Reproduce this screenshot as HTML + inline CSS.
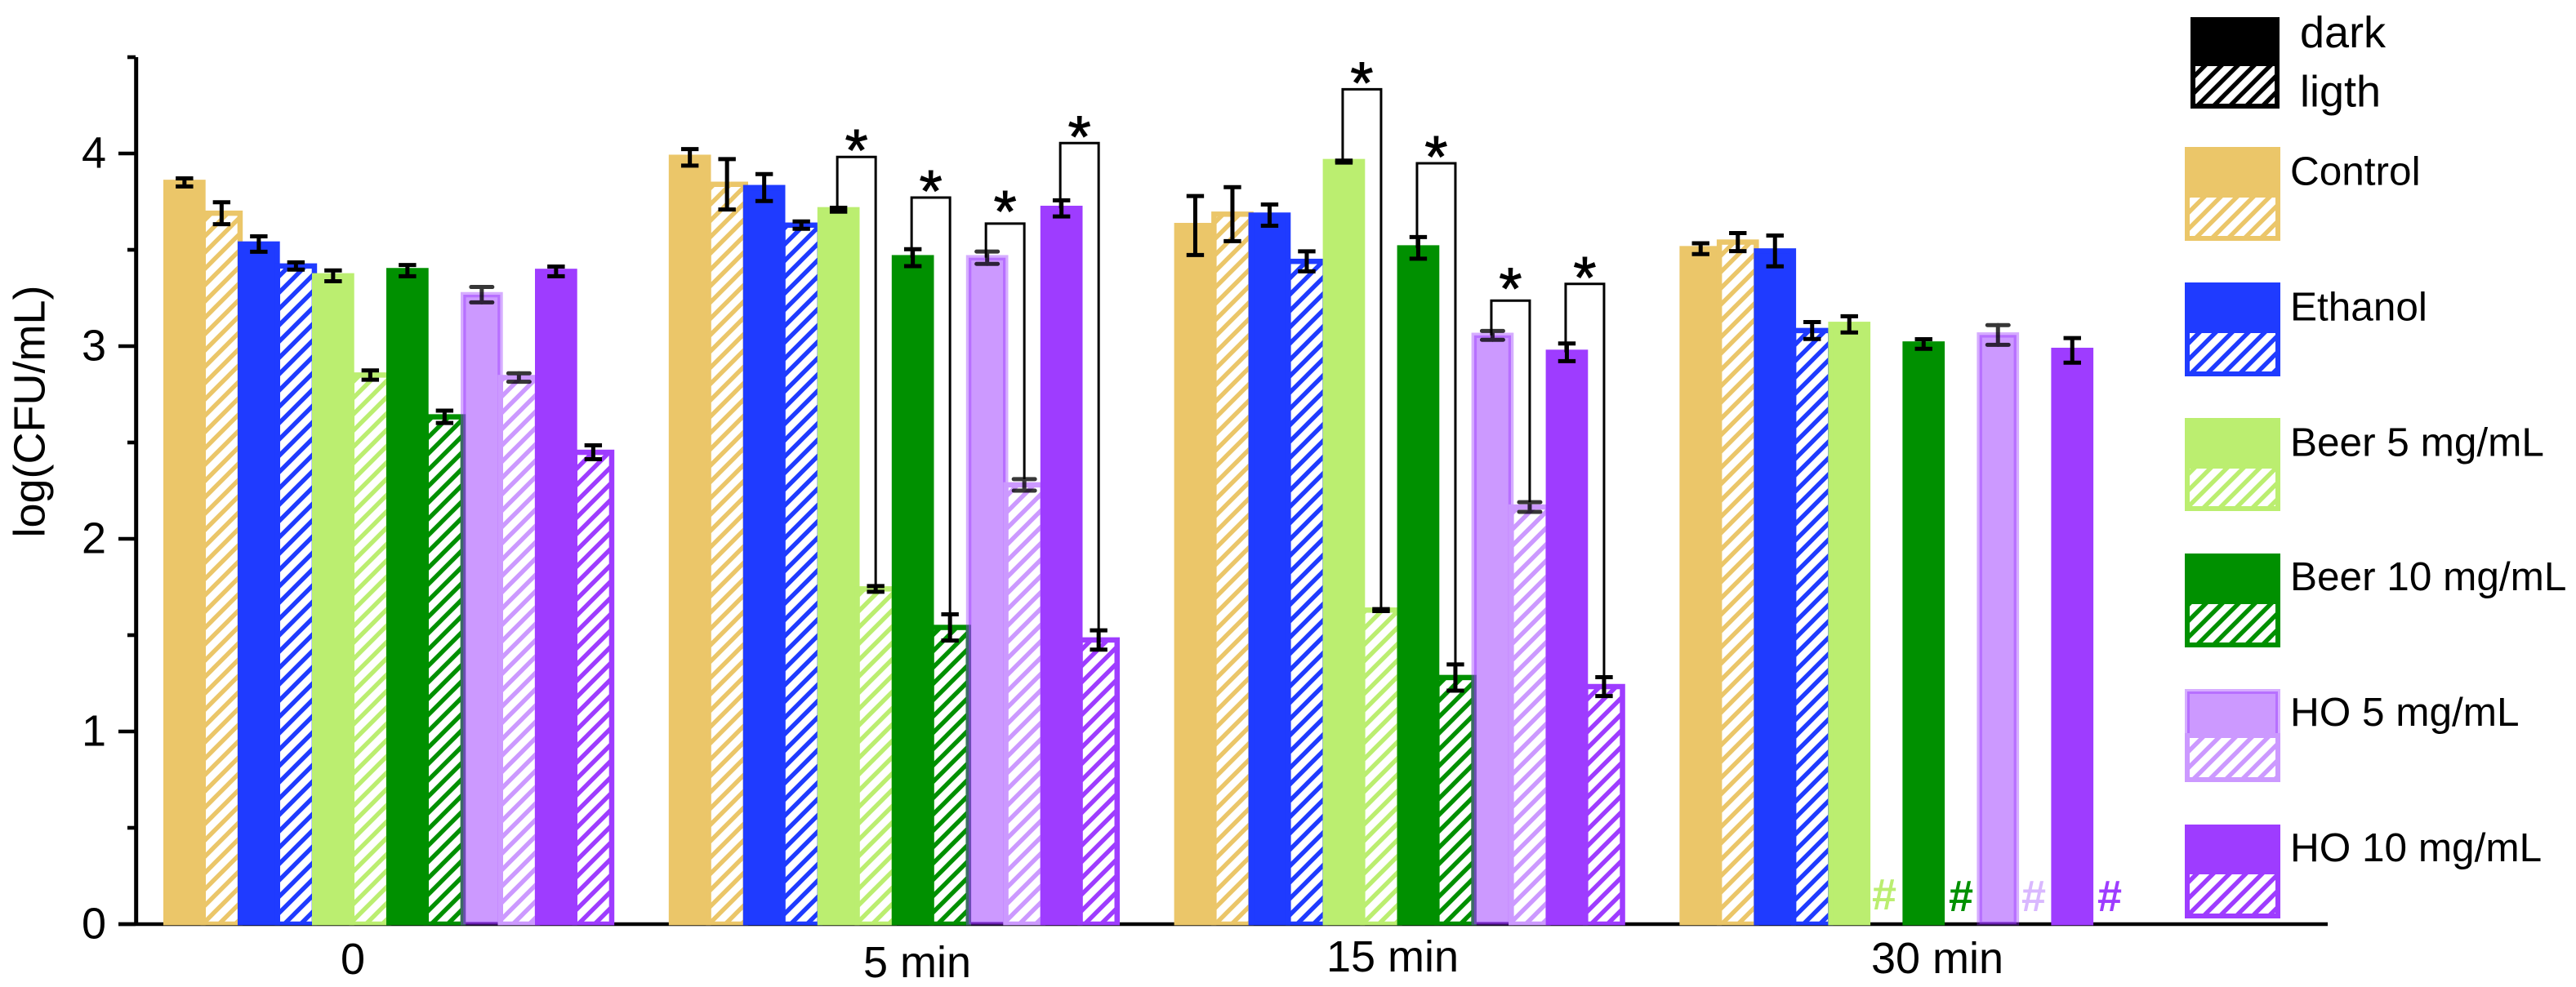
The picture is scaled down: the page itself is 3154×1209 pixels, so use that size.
<!DOCTYPE html>
<html lang="en">
<head>
<meta charset="utf-8">
<title>log(CFU/mL) bar chart</title>
<style>
html,body{margin:0;padding:0;background:#fff;width:3154px;height:1209px;overflow:hidden}
svg{display:block}
text{font-family:"Liberation Sans",sans-serif;fill:#000}
</style>
</head>
<body>
<svg id="chart" width="3154" height="1209" viewBox="0 0 3154 1209" xmlns="http://www.w3.org/2000/svg">
<defs>
<clipPath id="bar-clip"><rect x="0" y="0" width="3154" height="1133.4"/></clipPath>
<pattern id="hatch-control" width="20" height="20" patternUnits="userSpaceOnUse"><rect width="20" height="20" fill="#fff"/><path d="M-5,5 l10,-10 M0,20 l20,-20 M15,25 l10,-10" stroke="#EBC669" stroke-width="5.4"/></pattern>
<pattern id="hatch-ethanol" width="20" height="20" patternUnits="userSpaceOnUse"><rect width="20" height="20" fill="#fff"/><path d="M-5,5 l10,-10 M0,20 l20,-20 M15,25 l10,-10" stroke="#1F3BFF" stroke-width="5.4"/></pattern>
<pattern id="hatch-beer5" width="20" height="20" patternUnits="userSpaceOnUse"><rect width="20" height="20" fill="#fff"/><path d="M-5,5 l10,-10 M0,20 l20,-20 M15,25 l10,-10" stroke="#BBEE70" stroke-width="5.4"/></pattern>
<pattern id="hatch-beer10" width="20" height="20" patternUnits="userSpaceOnUse"><rect width="20" height="20" fill="#fff"/><path d="M-5,5 l10,-10 M0,20 l20,-20 M15,25 l10,-10" stroke="#009000" stroke-width="5.4"/></pattern>
<pattern id="hatch-ho5" width="20" height="20" patternUnits="userSpaceOnUse"><rect width="20" height="20" fill="#fff"/><path d="M-5,5 l10,-10 M0,20 l20,-20 M15,25 l10,-10" stroke="#CC99FF" stroke-width="5.4"/></pattern>
<pattern id="hatch-ho10" width="20" height="20" patternUnits="userSpaceOnUse"><rect width="20" height="20" fill="#fff"/><path d="M-5,5 l10,-10 M0,20 l20,-20 M15,25 l10,-10" stroke="#9E3CFF" stroke-width="5.4"/></pattern>
<pattern id="hatch-black" width="20" height="20" patternUnits="userSpaceOnUse"><rect width="20" height="20" fill="#fff"/><path d="M-5,5 l10,-10 M0,20 l20,-20 M15,25 l10,-10" stroke="#000" stroke-width="5.4"/></pattern>
</defs>

<g id="axes">
<line x1="145" y1="1132" x2="2850" y2="1132" stroke="#000" stroke-width="4.6"/>
<line x1="166.7" y1="70" x2="166.7" y2="1134" stroke="#000" stroke-width="5"/>
</g>
<text font-size="54" text-anchor="middle" transform="translate(54.6,504) rotate(-90)">log(CFU/mL)</text>
<g id="bars" clip-path="url(#bar-clip)"></g>
<g id="errors"></g>
<g id="brackets"></g>

<text x="432" y="1193" font-size="54" text-anchor="middle">0</text>
<text x="1123" y="1197" font-size="54" text-anchor="middle">5 min</text>
<text x="1705" y="1190" font-size="54" text-anchor="middle">15 min</text>
<text x="2372" y="1192" font-size="54" text-anchor="middle">30 min</text>

<text x="2307" y="1114" font-size="54" font-weight="bold" text-anchor="middle" style="fill:#BBEE70">#</text>
<text x="2401" y="1116" font-size="54" font-weight="bold" text-anchor="middle" style="fill:#009000">#</text>
<text x="2490" y="1116" font-size="54" font-weight="bold" text-anchor="middle" style="fill:#D9B8FF">#</text>
<text x="2583" y="1116" font-size="54" font-weight="bold" text-anchor="middle" style="fill:#9E3CFF">#</text>

<g>
<g>
<rect x="2682" y="21" width="109" height="60" fill="#000"/>
<rect x="2685" y="78" width="103" height="52" fill="url(#hatch-black)" stroke="#000" stroke-width="6"/>
<text x="2816" y="58" font-size="54">dark</text>
<text x="2816" y="130.7" font-size="54">ligth</text>
</g>
<g>
<rect x="2675" y="180" width="117" height="62" fill="#EBC669"/>
<rect x="2678" y="239" width="111" height="53" fill="url(#hatch-control)" stroke="#EBC669" stroke-width="6"/>
<text x="2804" y="226.7" font-size="49.5">Control</text>
</g>
<g>
<rect x="2675" y="346" width="117" height="62" fill="#1F3BFF"/>
<rect x="2678" y="405" width="111" height="53" fill="url(#hatch-ethanol)" stroke="#1F3BFF" stroke-width="6"/>
<text x="2804" y="392.7" font-size="49.5">Ethanol</text>
</g>
<g>
<rect x="2675" y="512" width="117" height="62" fill="#BBEE70"/>
<rect x="2678" y="571" width="111" height="52" fill="url(#hatch-beer5)" stroke="#BBEE70" stroke-width="6"/>
<text x="2804" y="558.6" font-size="49.5">Beer 5 mg/mL</text>
</g>
<g>
<rect x="2675" y="678" width="117" height="62" fill="#009000"/>
<rect x="2678" y="737" width="111" height="53" fill="url(#hatch-beer10)" stroke="#009000" stroke-width="6"/>
<text x="2804" y="723" font-size="49.5">Beer 10 mg/mL</text>
</g>
<g>
<rect x="2678" y="847" width="111" height="54" fill="rgba(153,51,255,.5)" stroke="rgba(153,51,255,.4)" stroke-width="6"/>
<rect x="2678" y="901" width="111" height="54" fill="url(#hatch-ho5)" stroke="#CC99FF" stroke-width="6"/>
<text x="2804" y="889" font-size="49.5">HO 5 mg/mL</text>
</g>
<g>
<rect x="2675" y="1010" width="117" height="61" fill="#9E3CFF"/>
<rect x="2678" y="1068" width="111" height="54" fill="url(#hatch-ho10)" stroke="#9E3CFF" stroke-width="6"/>
<text x="2804" y="1055" font-size="49.5">HO 10 mg/mL</text>
</g>
</g>
</svg>

<script>
// ---- chart data (one value per time point: 0, 5 min, 15 min, 30 min) ----
const yTicks = [0, 1, 2, 3, 4];
const yMinorTicks = [0.5, 1.5, 2.5, 3.5, 4.5];

const controlDark = [3.85, 3.98, 3.626, 3.506];
const controlDarkErr = [0.021, 0.043, 0.153, 0.028];
const controlLight = [3.69, 3.84, 3.685, 3.54];
const controlLightErr = [0.057, 0.131, 0.14, 0.047];

const ethanolDark = [3.53, 3.823, 3.68, 3.494];
const ethanolDarkErr = [0.04, 0.07, 0.055, 0.08];
const ethanolLight = [3.416, 3.628, 3.44, 3.081];
const ethanolLightErr = [0.019, 0.019, 0.052, 0.044];

const beer5Dark = [3.365, 3.708, 3.958, 3.113];
const beer5DarkErr = [0.028, 0.01, 0.005, 0.042];
const beer5Light = [2.85, 1.74, 1.63, null];
const beer5LightErr = [0.024, 0.015, 0.005, null];

const beer10Dark = [3.392, 3.459, 3.51, 3.011];
const beer10DarkErr = [0.029, 0.044, 0.056, 0.025];
const beer10Light = [2.633, 1.54, 1.28, null];
const beer10LightErr = [0.032, 0.068, 0.068, null];

const ho5Dark = [3.267, 3.459, 3.056, 3.058];
const ho5DarkErr = [0.04, 0.032, 0.023, 0.051];
const ho5Light = [2.837, 2.28, 2.165, null];
const ho5LightErr = [0.022, 0.03, 0.025, null];

const ho10Dark = [3.388, 3.715, 2.968, 2.978];
const ho10DarkErr = [0.025, 0.042, 0.046, 0.064];
const ho10Light = [2.449, 1.475, 1.233, null];
const ho10LightErr = [0.036, 0.05, 0.049, null];

// bracket top heights, in axis units, for Beer 5, Beer 10, HO 5, HO 10
const brackets5min = [3.982, 3.771, 3.636, 4.054];
const brackets15min = [4.333, 3.949, 3.236, 3.323];

// ---- series assembly ----
const series = [
  {d: controlDark, e: controlDarkErr, l: controlLight, le: controlLightErr, color: '#EBC669', hatch: 'hatch-control'},
  {d: ethanolDark, e: ethanolDarkErr, l: ethanolLight, le: ethanolLightErr, color: '#1F3BFF', hatch: 'hatch-ethanol'},
  {d: beer5Dark, e: beer5DarkErr, l: beer5Light, le: beer5LightErr, color: '#BBEE70', hatch: 'hatch-beer5'},
  {d: beer10Dark, e: beer10DarkErr, l: beer10Light, le: beer10LightErr, color: '#009000', hatch: 'hatch-beer10'},
  {d: ho5Dark, e: ho5DarkErr, l: ho5Light, le: ho5LightErr, color: 'rgba(153,51,255,.4)', fill: 'rgba(153,51,255,.5)', hatch: 'hatch-ho5', soft: true},
  {d: ho10Dark, e: ho10DarkErr, l: ho10Light, le: ho10LightErr, color: '#9E3CFF', hatch: 'hatch-ho10'}
];

// ---- axis functions ----
const NS = 'http://www.w3.org/2000/svg';
function yScale(v) { return 1132 - 236 * v; }
function barLeft(g, i) { return 200 + 618.8 * g + 45.5 * i; }
function barCenter(g, i) { return barLeft(g, i) + 25.85; }

function make(tag, parent) {
  const el = document.createElementNS(NS, tag);
  parent.appendChild(el);
  return el;
}
function setLine(el, x1, y1, x2, y2, w) {
  el.setAttribute('x1', x1);
  el.setAttribute('y1', y1);
  el.setAttribute('x2', x2);
  el.setAttribute('y2', y2);
  el.setAttribute('stroke', '#000');
  el.setAttribute('stroke-width', w);
}

const axesLayer = document.getElementById('axes');
const barsLayer = document.getElementById('bars');
const errorsLayer = document.getElementById('errors');
const bracketsLayer = document.getElementById('brackets');

// y ticks
yTicks.forEach(function (t) {
  const tick = make('line', axesLayer);
  
  
  setLine(tick, 145, yScale(t), 166, yScale(t), 4.6);
  const label = make('text', axesLayer);
  
  
  label.setAttribute('x', 130);
  label.setAttribute('y', yScale(t) + 17.5);
  label.setAttribute('font-size', '54');
  label.setAttribute('text-anchor', 'end');
  label.textContent = String(t);
});
yMinorTicks.forEach(function (t) {
  const tick = make('line', axesLayer);
  
  
  setLine(tick, 156, yScale(t), 166, yScale(t), 4.6);
});

function addError(g, i, v, err, soft) {
  const group = make('g', errorsLayer);
  
  
  const cx = barCenter(g, i);
  const half = soft ? 13 : 10.7;
  if (soft) {
    group.setAttribute('opacity', '0.78');
    group.setAttribute('stroke-linecap', 'round');
  }
  const stem = make('line', group);
  setLine(stem, cx, yScale(v + err), cx, yScale(v - err), 5);
  const top = make('line', group);
  setLine(top, cx - half, yScale(v + err), cx + half, yScale(v + err), 5);
  const bottom = make('line', group);
  setLine(bottom, cx - half, yScale(v - err), cx + half, yScale(v - err), 5);
}

function addBar(g, i, v, fill, stroke) {
  const bar = make('rect', barsLayer);
  
  
  bar.setAttribute('x', barLeft(g, i) + 3.25);
  bar.setAttribute('y', yScale(v));
  bar.setAttribute('width', 45.2);
  bar.setAttribute('height', yScale(0) - yScale(v));
  bar.setAttribute('fill', fill);
  bar.setAttribute('stroke', stroke);
  bar.setAttribute('stroke-width', 6.5);
}

// bars and error bars
[0, 1, 2, 3].forEach(function (g) {
  series.forEach(function (s, k) {
    const darkIndex = k * 2;
    const lightIndex = k * 2 + 1;
    addBar(g, darkIndex, s.d[g], s.fill || s.color, s.color);
    addError(g, darkIndex, s.d[g], s.e[g], s.soft);
    if (s.l[g] !== null) {
      addBar(g, lightIndex, s.l[g], 'url(#' + s.hatch + ')', s.soft ? '#CC99FF' : s.color);
      addError(g, lightIndex, s.l[g], s.le[g], s.soft);
    }
  });
});

// significance brackets
function addBracket(g, k, topValue) {
  const s = series[k];
  const xL = barCenter(g, k * 2) - 1.5;
  const xR = barCenter(g, k * 2 + 1);
  const yT = yScale(topValue);
  const yL = yScale(s.d[g]);
  const yR = yScale(s.l[g] + s.le[g]);
  const path = make('path', bracketsLayer);
  
  
  path.setAttribute('d', 'M' + xL + ',' + yL + ' V' + yT + ' H' + xR + ' V' + yR);
  path.setAttribute('fill', 'none');
  path.setAttribute('stroke', '#000');
  path.setAttribute('stroke-width', 3);
  const star = make('text', bracketsLayer);
  
  
  star.setAttribute('x', (xL + xR) / 2);
  star.setAttribute('y', yT + (k === 4 ? 10 : 17));
  star.setAttribute('font-size', '72');
  star.setAttribute('text-anchor', 'middle');
  star.setAttribute('stroke', '#000');
  star.setAttribute('stroke-width', '1');
  star.textContent = '*';
}
const bracketSeries = [2, 3, 4, 5];
brackets5min.forEach(function (t, n) { addBracket(1, bracketSeries[n], t); });
brackets15min.forEach(function (t, n) { addBracket(2, bracketSeries[n], t); });
</script>
</body>
</html>
